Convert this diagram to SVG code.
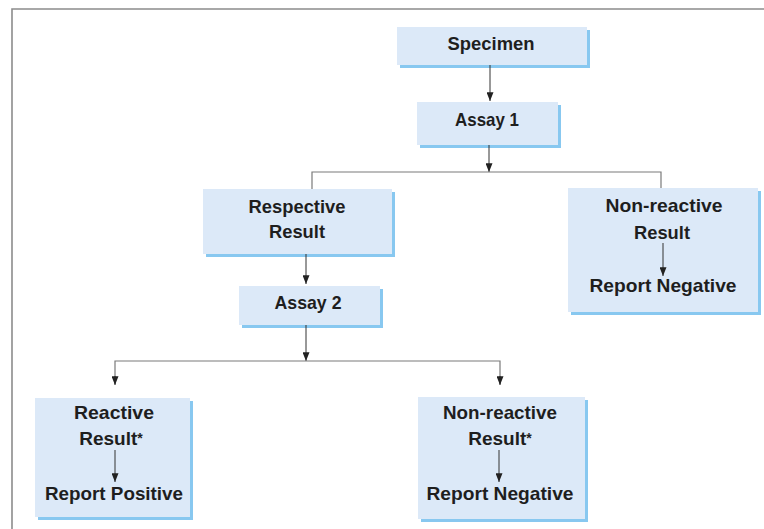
<svg xmlns="http://www.w3.org/2000/svg" width="764" height="529" viewBox="0 0 764 529">
  <style>
    .box { fill: #dce9f8; }
    .shadow { fill: #88c8f0; }
    .lbl { font-family: "Liberation Sans", Arial, sans-serif; font-weight: bold; font-size: 19px; fill: #1e1e1e; text-anchor: middle; }
    .star { font-size: 14px; }
    .link { stroke: #333; stroke-width: 1; fill: none; }
    .bus { stroke: #7a7a7a; stroke-width: 1.2; fill: none; }
  </style>
  <defs>
    <marker id="arrow" viewBox="0 0 10 8" refX="10" refY="4" markerWidth="9" markerHeight="7" markerUnits="userSpaceOnUse" orient="auto">
      <path d="M0,0 L10,4 L0,8 Z" fill="#222"/>
    </marker>
  </defs>

  <rect width="764" height="529" fill="#fff"/>
  <!-- outer frame -->
  <path d="M764,9 H12 V529" fill="none" stroke="#8c8c8c" stroke-width="1.6"/>

  <g id="specimen">
    <rect class="shadow" x="400" y="30" width="190" height="38"/>
    <rect class="box" x="397" y="27" width="190" height="38"/>
    <text class="lbl" x="491" y="50" textLength="87" lengthAdjust="spacingAndGlyphs">Specimen</text>
  </g>

  <g id="assay1">
    <rect class="shadow" x="420" y="105" width="141" height="43"/>
    <rect class="box" x="417" y="102" width="141" height="43"/>
    <text class="lbl" x="487" y="126" textLength="64" lengthAdjust="spacingAndGlyphs">Assay 1</text>
  </g>

  <g id="respective-result">
    <rect class="shadow" x="206" y="192" width="189" height="65"/>
    <rect class="box" x="203" y="189" width="189" height="65"/>
    <text class="lbl" x="297" y="213" textLength="97" lengthAdjust="spacingAndGlyphs">Respective</text>
    <text class="lbl" x="297" y="238" textLength="56" lengthAdjust="spacingAndGlyphs">Result</text>
  </g>

  <g id="assay2">
    <rect class="shadow" x="242" y="289" width="141" height="39"/>
    <rect class="box" x="239" y="286" width="141" height="39"/>
    <text class="lbl" x="308" y="309" textLength="67" lengthAdjust="spacingAndGlyphs">Assay 2</text>
  </g>

  <g id="nonreactive-1">
    <rect class="shadow" x="571" y="191" width="190" height="124"/>
    <rect class="box" x="568" y="188" width="190" height="124"/>
    <text class="lbl" x="664" y="212" textLength="117" lengthAdjust="spacingAndGlyphs">Non-reactive</text>
    <text class="lbl" x="662" y="239" textLength="56" lengthAdjust="spacingAndGlyphs">Result</text>
    <text class="lbl" x="663" y="292" textLength="147" lengthAdjust="spacingAndGlyphs">Report Negative</text>
  </g>

  <g id="reactive">
    <rect class="shadow" x="38" y="401" width="155" height="119"/>
    <rect class="box" x="35" y="398" width="155" height="119"/>
    <text class="lbl" x="114" y="419" textLength="80" lengthAdjust="spacingAndGlyphs">Reactive</text>
    <text class="lbl" x="111" y="445">Result<tspan class="star" dy="-2">*</tspan></text>
    <text class="lbl" x="114" y="500" textLength="138" lengthAdjust="spacingAndGlyphs">Report Positive</text>
  </g>

  <g id="nonreactive-2">
    <rect class="shadow" x="421" y="400" width="167" height="122"/>
    <rect class="box" x="418" y="397" width="167" height="122"/>
    <text class="lbl" x="500" y="419" textLength="114" lengthAdjust="spacingAndGlyphs">Non-reactive</text>
    <text class="lbl" x="500" y="445">Result<tspan class="star" dy="-2">*</tspan></text>
    <text class="lbl" x="500" y="500" textLength="147" lengthAdjust="spacingAndGlyphs">Report Negative</text>
  </g>

  <g id="connectors">
    <path class="link" d="M490,65 V101" marker-end="url(#arrow)"/>
    <path class="link" d="M489,145 V172" marker-end="url(#arrow)"/>
    <path class="bus" d="M312,189 V172 H661 V188"/>
    <path class="link" d="M306,254 V284" marker-end="url(#arrow)"/>
    <path class="link" d="M306,325 V361" marker-end="url(#arrow)"/>
    <path class="bus" d="M115,384 V361 H500 V384"/>
    <path class="link" d="M115,376 V385" marker-end="url(#arrow)"/>
    <path class="link" d="M500,376 V385" marker-end="url(#arrow)"/>
    <path class="link" d="M663,243 V276" marker-end="url(#arrow)"/>
    <path class="link" d="M115,450 V482" marker-end="url(#arrow)"/>
    <path class="link" d="M499,450 V482" marker-end="url(#arrow)"/>
  </g>
</svg>
